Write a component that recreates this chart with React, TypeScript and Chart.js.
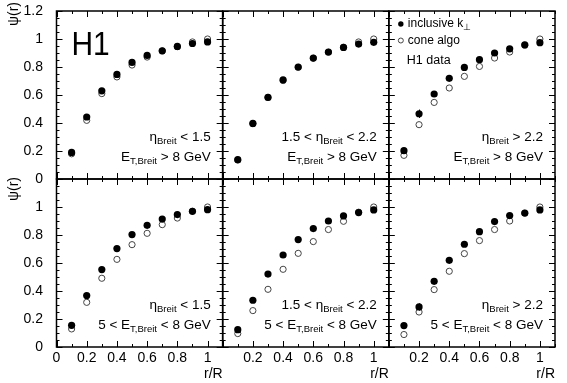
import React, { useEffect, useRef } from 'react';
import { Chart, registerables } from 'chart.js';

Chart.register(...registerables);

const FONT = "'Liberation Sans', Arial, Helvetica, sans-serif";

// r/R bin centres
const rValues = [0.1, 0.2, 0.3, 0.4, 0.5, 0.6, 0.7, 0.8, 0.9, 1.0];

// Top row: E_T,Breit > 8 GeV
const ktTopLow = [0.19, 0.443, 0.63, 0.747, 0.833, 0.883, 0.916, 0.947, 0.968, 0.979];
const coneTopLow = [0.18, 0.419, 0.61, 0.729, 0.814, 0.871, 0.914, 0.945, 0.979, 1.0];
const ktTopMid = [0.138, 0.397, 0.583, 0.709, 0.8, 0.864, 0.907, 0.94, 0.964, 0.976];
const coneTopMid = [0.135, 0.395, 0.583, 0.703, 0.797, 0.862, 0.905, 0.94, 0.979, 1.0];
const ktTopHigh = [0.202, 0.466, 0.607, 0.719, 0.797, 0.852, 0.9, 0.93, 0.959, 0.974];
const coneTopHigh = [0.169, 0.388, 0.547, 0.65, 0.733, 0.804, 0.864, 0.907, 0.955, 1.0];

// Bottom row: 5 < E_T,Breit < 8 GeV
const ktBotLow = [0.155, 0.367, 0.553, 0.703, 0.803, 0.869, 0.914, 0.946, 0.969, 0.981];
const coneBotLow = [0.129, 0.319, 0.491, 0.626, 0.731, 0.812, 0.874, 0.921, 0.969, 1.0];
const ktBotMid = [0.124, 0.334, 0.521, 0.657, 0.767, 0.846, 0.9, 0.936, 0.96, 0.979];
const coneBotMid = [0.096, 0.26, 0.412, 0.555, 0.669, 0.753, 0.839, 0.898, 0.963, 1.0];
const ktBotHigh = [0.153, 0.286, 0.469, 0.619, 0.734, 0.824, 0.896, 0.939, 0.957, 0.979];
const coneBotHigh = [0.089, 0.25, 0.41, 0.541, 0.667, 0.76, 0.839, 0.9, 0.955, 1.0];

// visible statistical errors (inclusive k_T)
const ktErrTopHigh = [0.02, 0.03, 0.02, 0.012, 0.01, 0.01, 0.008, 0.008, 0.006, 0.005];
const ktErrBotHigh = [0.012, 0.026, 0.015, 0.012, 0.01, 0.008, 0.008, 0.006, 0.005, 0.005];

// texts
const etaLabels = ['η_{Breit} < 1.5', '1.5 < η_{Breit} < 2.2', 'η_{Breit} > 2.2'];
const etLabels = ['E_{T,Breit} > 8 GeV', '5 < E_{T,Breit} < 8 GeV'];
const legendLabels = ['inclusive k_{⊥}', 'cone algo'];
const dataLabel = 'H1 data';
const logoLabel = 'H1';
const xTitle = 'r/R';
const yTitle = 'ψ(r)';

const panels = [
  { row: 0, col: 0, kt: ktTopLow, cone: coneTopLow, err: null as number[] | null },
  { row: 0, col: 1, kt: ktTopMid, cone: coneTopMid, err: null },
  { row: 0, col: 2, kt: ktTopHigh, cone: coneTopHigh, err: ktErrTopHigh },
  { row: 1, col: 0, kt: ktBotLow, cone: coneBotLow, err: null },
  { row: 1, col: 1, kt: ktBotMid, cone: coneBotMid, err: null },
  { row: 1, col: 2, kt: ktBotHigh, cone: coneBotHigh, err: ktErrBotHigh },
];

function drawRich(ctx: CanvasRenderingContext2D, text: string, x: number, y: number, size: number, subSize: number, align: 'left' | 'right') {
  const parts: { t: string; sub: boolean }[] = [];
  const re = /_\{([^}]*)\}/g;
  let last = 0;
  let m: RegExpExecArray | null;
  while ((m = re.exec(text))) {
    if (m.index > last) parts.push({ t: text.slice(last, m.index), sub: false });
    parts.push({ t: m[1], sub: true });
    last = m.index + m[0].length;
  }
  if (last < text.length) parts.push({ t: text.slice(last), sub: false });
  let total = 0;
  const widths = parts.map((p) => {
    ctx.font = `${p.sub ? subSize : size}px ${FONT}`;
    const w = ctx.measureText(p.t).width;
    total += w;
    return w;
  });
  let cx = align === 'right' ? x - total : x;
  ctx.textAlign = 'left';
  ctx.textBaseline = 'middle';
  parts.forEach((p, i) => {
    ctx.font = `${p.sub ? subSize : size}px ${FONT}`;
    ctx.fillText(p.t, cx, p.sub ? y + 4 : y);
    cx += widths[i];
  });
}

const panelPlugin = {
  id: 'panelDecor',
  beforeDatasetsDraw(chart: any) {
    const ctx = chart.ctx as CanvasRenderingContext2D;
    ctx.save();
    ctx.strokeStyle = '#000';
    ctx.lineWidth = 1;
    panels.forEach((p) => {
      if (!p.err) return;
      const xs = chart.scales['x' + p.col];
      const ys = chart.scales['y' + p.row];
      p.err.forEach((e, i) => {
        const px = Math.round(xs.getPixelForValue(rValues[i])) + 0.5;
        ctx.beginPath();
        ctx.moveTo(px, ys.getPixelForValue(p.kt[i] - e));
        ctx.lineTo(px, ys.getPixelForValue(p.kt[i] + e));
        ctx.stroke();
      });
    });
    ctx.restore();
  },
  afterDatasetsDraw(chart: any) {
    const ctx = chart.ctx as CanvasRenderingContext2D;
    ctx.save();
    ctx.fillStyle = '#000';
    ctx.strokeStyle = '#000';
    for (let row = 0; row < 2; row++) {
      for (let col = 0; col < 3; col++) {
        const xs = chart.scales['x' + col];
        const ys = chart.scales['y' + row];
        const L = xs.left, R = xs.right, T = ys.top, B = ys.bottom;
        ctx.lineWidth = 1;
        ctx.beginPath();
        for (let i = 0; i <= 11; i++) {
          const px = Math.round(xs.getPixelForValue(i / 10)) + 0.5;
          const len = i % 2 === 0 ? 6 : 3;
          ctx.moveTo(px, B); ctx.lineTo(px, B - len);
          ctx.moveTo(px, T); ctx.lineTo(px, T + len);
        }
        for (let i = 0; i <= 24; i++) {
          const py = Math.round(ys.getPixelForValue(i * 0.05)) + 0.5;
          const len = i % 4 === 0 ? 6 : 3;
          ctx.moveTo(L, py); ctx.lineTo(L + len, py);
          ctx.moveTo(R, py); ctx.lineTo(R - len, py);
        }
        ctx.stroke();
        ctx.lineWidth = 1.5;
        ctx.strokeRect(L, T, R - L, B - T);
        // annotations
        ctx.fillStyle = '#000';
        drawRich(ctx, etaLabels[col], R - 12, B - 41.5, 13.5, 9.5, 'right');
        drawRich(ctx, etLabels[row], R - 12, B - 21.5, 13.5, 9.5, 'right');
      }
      // y title, rotated, right-aligned near the top of each row
      const ys = chart.scales['y' + row];
      ctx.save();
      ctx.translate(14, ys.top - (row === 0 ? 9 : 2));
      ctx.rotate(-Math.PI / 2);
      ctx.font = `14px ${FONT}`;
      ctx.textAlign = 'right';
      ctx.textBaseline = 'middle';
      ctx.fillText(yTitle, 0, 0);
      ctx.restore();
    }
    // logo
    const x0 = chart.scales.x0, y0 = chart.scales.y0, x2 = chart.scales.x2;
    ctx.save();
    ctx.translate(x0.left + 15, y0.top + 44);
    ctx.scale(0.88, 1);
    ctx.font = `34px ${FONT}`;
    ctx.textAlign = 'left';
    ctx.textBaseline = 'alphabetic';
    ctx.fillText(logoLabel, 0, 0);
    ctx.restore();
    // legend
    const lx = x2.left + 12;
    const ly = y0.top + 13;
    ctx.beginPath();
    ctx.arc(lx, ly, 2.7, 0, Math.PI * 2);
    ctx.fill();
    ctx.beginPath();
    ctx.lineWidth = 1;
    ctx.strokeStyle = '#444';
    ctx.arc(lx, ly + 16.5, 2.5, 0, Math.PI * 2);
    ctx.stroke();
    drawRich(ctx, legendLabels[0], lx + 7, ly, 12, 9, 'left');
    drawRich(ctx, legendLabels[1], lx + 7, ly + 16.5, 12, 9, 'left');
    drawRich(ctx, dataLabel, lx + 6, ly + 36.5, 12.5, 9, 'left');
    ctx.restore();
  },
};

const fmt = (v: number) => String(Number(v.toFixed(2)));

export default function App() {
  const ref = useRef<HTMLCanvasElement>(null);
  useEffect(() => {
    if (!ref.current) return;
    Chart.defaults.font.family = FONT;
    Chart.defaults.color = '#000';
    const datasets: any[] = [];
    // filled first so they are drawn on top
    panels.forEach((p) => {
      datasets.push({
        label: legendLabels[0],
        data: rValues.map((r, i) => ({ x: r, y: p.kt[i] })),
        xAxisID: 'x' + p.col,
        yAxisID: 'y' + p.row,
        pointRadius: 3.6,
        pointBackgroundColor: '#000',
        pointBorderColor: '#000',
        pointBorderWidth: 0,
        showLine: false,
        order: 0,
      });
    });
    panels.forEach((p) => {
      datasets.push({
        label: legendLabels[1],
        data: rValues.map((r, i) => ({ x: r, y: p.cone[i] })),
        xAxisID: 'x' + p.col,
        yAxisID: 'y' + p.row,
        pointRadius: 3.1,
        pointBackgroundColor: 'rgba(255,255,255,0)',
        pointBorderColor: '#444',
        pointBorderWidth: 1,
        showLine: false,
        order: 1,
      });
    });
    const xScale = (col: number) => ({
      type: 'linear',
      position: 'bottom',
      stack: 'cols',
      stackWeight: 1,
      weight: col,
      min: 0,
      max: 1.1,
      grid: { display: false, drawTicks: false },
      border: { display: false },
      ticks: {
        stepSize: 0.2,
        includeBounds: false,
        autoSkip: false,
        maxRotation: 0,
        padding: 3,
        font: { size: 14 },
        callback: (v: number) => (v > 1.05 || (col > 0 && v < 0.05) ? '' : fmt(v)),
      },
      title: { display: true, text: xTitle, align: 'end', font: { size: 14 }, padding: { top: 0, bottom: 0 } },
      afterFit: (s: any) => {
        s.height = 36;
        s.paddingLeft = 0;
        s.paddingRight = 0;
      },
    });
    const yScale = (row: number) => ({
      type: 'linear',
      position: 'left',
      stack: 'rows',
      stackWeight: 1,
      weight: row === 0 ? 1 : 0,
      min: 0,
      max: 1.2,
      grid: { display: false, drawTicks: false },
      border: { display: false },
      ticks: {
        stepSize: 0.2,
        autoSkip: false,
        padding: 13.5,
        font: { size: 14 },
        callback: (v: number) => (row === 1 && v > 1.15 ? '' : fmt(v)),
      },
      title: { display: false, text: yTitle },
      afterFit: (s: any) => {
        s.width = 56.5;
        s.paddingTop = 0;
        s.paddingBottom = 0;
      },
    });
    const chart = new Chart(ref.current, {
      type: 'scatter',
      data: { datasets },
      options: {
        animation: false,
        responsive: false,
        devicePixelRatio: 1,
        layout: { padding: { left: 0, top: 11, right: 12, bottom: 0 } },
        plugins: { legend: { display: false }, tooltip: { enabled: false } },
        scales: {
          x0: xScale(0),
          x1: xScale(1),
          x2: xScale(2),
          y0: yScale(0),
          y1: yScale(1),
        } as any,
      },
      plugins: [panelPlugin],
    } as any);
    return () => chart.destroy();
  }, []);
  return (
    <div style={{ position: 'absolute', left: 0, top: 0, width: 567, height: 383, background: '#fff' }}>
      <canvas ref={ref} width={567} height={383} style={{ display: 'block', width: 567, height: 383 }} />
    </div>
  );
}
